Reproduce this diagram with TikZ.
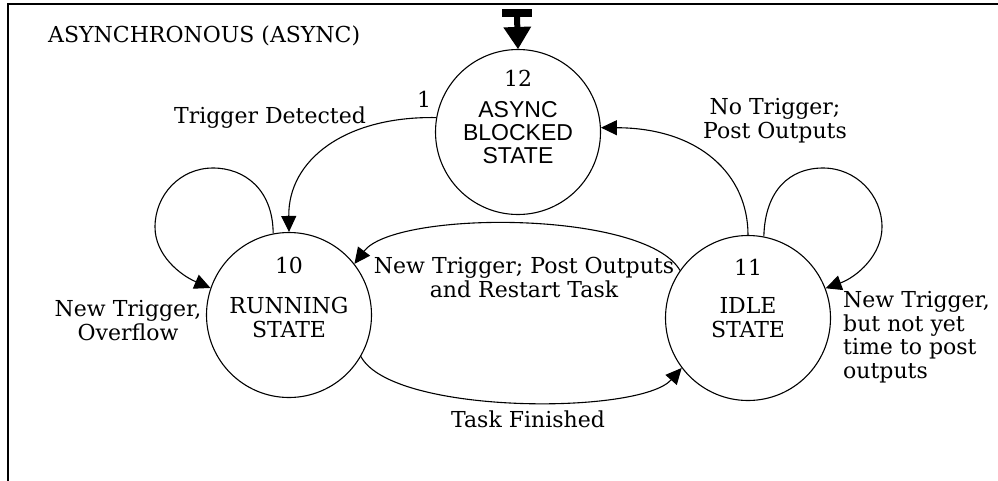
\documentclass[tikz,border=0pt]{standalone}
\usepackage{fontspec}
\setmainfont{DejaVu Serif}
\newfontfamily\statesans{Liberation Sans}
\usetikzlibrary{arrows.meta}
\begin{document}
\begin{tikzpicture}[x=1pt,y=-1pt,
  state/.style={circle,draw,line width=1.1pt,minimum size=165pt,inner sep=0pt},
  txt/.style={font=\fontsize{22}{23.5}\selectfont,inner sep=0pt,anchor=base,align=center},
  stxt/.style={font=\statesans\fontsize{23}{23.5}\selectfont,inner sep=0pt,anchor=base},
  edge/.style={line width=1.1pt,-{Triangle[length=16pt,width=15pt]}},
]
\useasboundingbox (0,0) rectangle (998,480);
% frame
\draw[line width=1.3pt] (8,4) rectangle (1030,510);
\node[txt,anchor=base west] (title) at (48,42) {ASYNCHRONOUS (ASYNC)};

% states
\node[state] (s12) at (518,132) {};
\node[state] (s10) at (289,315) {};
\node[state] (s11) at (748,318) {};

\node[txt]  (n12) at (518,86)  {12};
\node[stxt] (a12) at (518,117) {ASYNC};
\node[stxt] (b12) at (518,140) {BLOCKED};
\node[stxt] (c12) at (518,163) {STATE};

\node[txt] (n10) at (289,273) {10};
\node[txt] (a10) at (289,313) {RUNNING};
\node[txt] (b10) at (289,337) {STATE};

\node[txt] (n11) at (748,275) {11};
\node[txt] (a11) at (748,313) {IDLE};
\node[txt] (b11) at (748,337) {STATE};

% initial marker
\coordinate (init) at (517,17);
\fill (502,9) rectangle (532,17);
\draw[line width=6pt,-{Triangle[length=22pt,width=28pt,line width=0pt]}] (init) -- (s12.north);

% transitions
\draw[edge] (s12.170) .. controls (345,116) and (288,160) .. (s10.north);
\draw[edge] (s10.101) .. controls (273,190) and (245,168) .. (213,168)
  .. controls (180,168) and (155,195) .. (155,227)
  .. controls (155,255) and (180,275) .. (s10.161);
\draw[edge] (s11.79) .. controls (765,190) and (790,168) .. (823,168)
  .. controls (856,168) and (882,195) .. (882,227)
  .. controls (882,255) and (857,277) .. (s11.21);
\draw[edge] (s11.north) .. controls (748,175) and (700,128) .. (s12.3);
\draw[edge] (s11.145) .. controls (645,210) and (395,210) .. (s10.38);
\draw[edge] (s10.-30) .. controls (392,415) and (640,415) .. (s11.217);

% transition labels (multi-line nodes sit on the baseline of their last line)
\node[txt] (l1)  at (424,107) {1};
\node[txt] (lTD) at (270,123) {Trigger Detected};
\node[txt] (lNT) at (775,138) {No Trigger;\\Post Outputs};
\node[txt] (lNR) at (524,297) {New Trigger; Post Outputs\\and Restart Task};
\node[txt] (lTF) at (528,427) {Task Finished};
\node[txt] (lOV) at (128,340) {New Trigger,\\Overflow};
\node[txt,align=left,anchor=base west] (lNY) at (843,378) {New Trigger,\\but not yet\\time to post\\outputs};
\end{tikzpicture}
\end{document}
